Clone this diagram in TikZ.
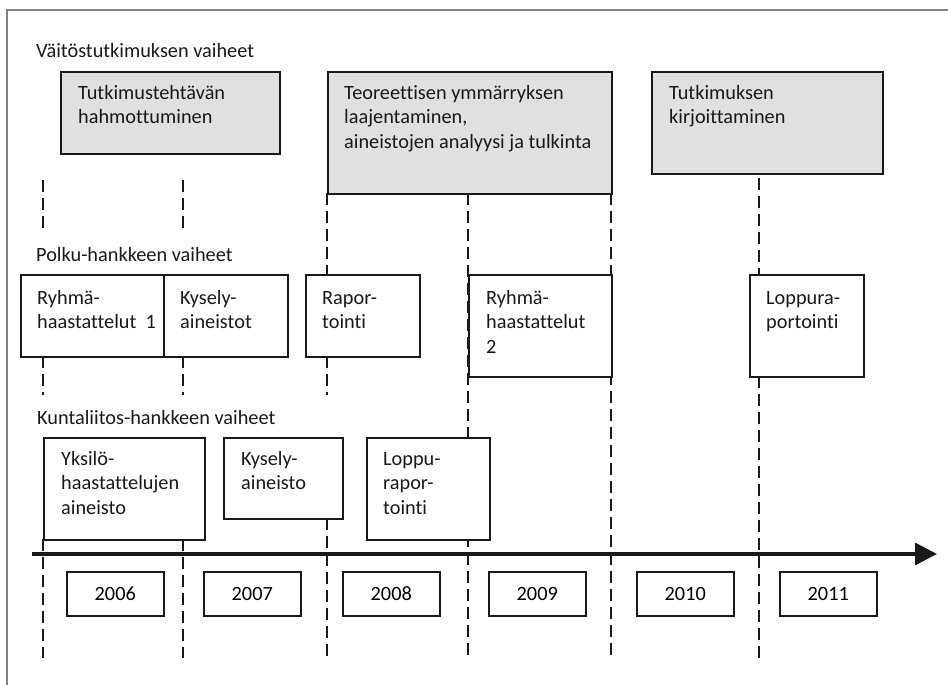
\documentclass[tikz,border=0pt]{standalone}
\usepackage{fontspec}
\setmainfont{Carlito}[Ligatures={NoCommon,NoRare,NoContextual}]
\usetikzlibrary{arrows.meta,calc}
\definecolor{phasegray}{RGB}{224,224,224}
\definecolor{framegray}{RGB}{130,130,130}
\definecolor{ink}{RGB}{25,25,25}
\tikzset{
  phasebox/.style={draw=ink, line width=1.8pt, fill=phasegray, inner sep=0pt, anchor=north west},
  wbox/.style={draw=ink, line width=1.5pt, fill=white, inner sep=0pt, anchor=north west},
  yearbox/.style={wbox, minimum width=97pt, minimum height=44pt, font=\fontsize{20.3}{24.5}\selectfont},
  txt/.style={inner sep=0pt, anchor=north west, align=left, font=\fontsize{20.3}{24.5}\selectfont, text=ink},
  hdr/.style={inner sep=0pt, anchor=base west, font=\fontsize{20.3}{24.5}\selectfont, text=ink},
  vdash/.style={draw=ink, line width=1.8pt, dash pattern=on 12pt off 6pt},
  timeline/.style={draw=ink, line width=3.5pt, -{Triangle[length=22pt,width=22pt]}}
}
\newcommand{\fl}{\rule{0pt}{17pt}}
\begin{document}
\begin{tikzpicture}[x=1pt,y=-1pt]
\useasboundingbox (0,0) rectangle (948,685);
% frame (top and left)
\draw[framegray, line width=1.5pt] (7,685) -- (7,10) -- (948,10);

% dashed year dividers
\foreach \x in {43,183}{
  \draw[vdash] (\x,180) -- (\x,233);
  \draw[vdash] (\x,356) -- (\x,395);
  \draw[vdash] (\x,539) -- (\x,658);
}
\draw[vdash] (327,193) -- (327,274);
\draw[vdash] (327,356) -- (327,395);
\draw[vdash] (327,518) -- (327,658);
\draw[vdash] (468,193) -- (468,658);
\draw[vdash] (611,193) -- (611,658);
\draw[vdash] (759,178) -- (759,658);

% section headers
\node[hdr] (h1) at (36,58) {Väitöstutkimuksen vaiheet};
\node[hdr] (h2) at (36,261) {Polku-hankkeen vaiheet};
\node[hdr] (h3) at (37,424) {Kuntaliitos-hankkeen vaiheet};

% dissertation phases
\node[phasebox, minimum width=219pt, minimum height=82pt] (p1) at (60,71) {};
\node[phasebox, minimum width=284pt, minimum height=122pt] (p2) at (327,71) {};
\node[phasebox, minimum width=231pt, minimum height=102pt] (p3) at (651,71) {};
\node[txt] (p1t) at (78,82) {\fl Tutkimustehtävän\\hahmottuminen};
\node[txt] (p2t) at (344,82) {\fl Teoreettisen ymmärryksen\\laajentaminen,\\aineistojen analyysi ja tulkinta};
\node[txt] (p3t) at (669,82) {\fl Tutkimuksen\\kirjoittaminen};

% Polku phases
\node[wbox, minimum width=143pt, minimum height=82pt] (q1) at (20,274) {};
\node[wbox, minimum width=124pt, minimum height=82pt] (q2) at (163,274) {};
\node[wbox, minimum width=114pt, minimum height=82pt] (q3) at (305,274) {};
\node[wbox, minimum width=143pt, minimum height=102pt] (q4) at (468,274) {};
\node[wbox, minimum width=114pt, minimum height=102pt] (q5) at (749,274) {};
\node[txt] (q1t) at (37,287) {\fl Ryhmä-\\haastattelut\ \ 1};
\node[txt] (q2t) at (180,287) {\fl Kysely-\\aineistot};
\node[txt] (q3t) at (322,287) {\fl Rapor-\\tointi};
\node[txt] (q4t) at (486,287) {\fl Ryhmä-\\haastattelut\\2};
\node[txt] (q5t) at (766,287) {\fl Loppura-\\portointi};

% Kuntaliitos phases
\node[wbox, minimum width=161pt, minimum height=102pt] (k1) at (43,437) {};
\node[wbox, minimum width=119pt, minimum height=81pt] (k2) at (223,437) {};
\node[wbox, minimum width=123pt, minimum height=102pt] (k3) at (366,437) {};
\node[txt] (k1t) at (61,448) {\fl Yksilö-\\haastattelujen\\aineisto};
\node[txt] (k2t) at (241,448) {\fl Kysely-\\aineisto};
\node[txt] (k3t) at (383,448) {\fl Loppu-\\rapor-\\tointi};

% timeline
\coordinate (tl0) at (32,554);
\coordinate (tl1) at (937,554);
\draw[timeline] (tl0) -- (tl1);

% years
\node[yearbox] (y06) at (66,571) {2006};
\node[yearbox] (y07) at (203,571) {2007};
\node[yearbox] (y08) at (342,571) {2008};
\node[yearbox] (y09) at (488,571) {2009};
\node[yearbox] (y10) at (636,571) {2010};
\node[yearbox] (y11) at (779,571) {2011};
\end{tikzpicture}
\end{document}
